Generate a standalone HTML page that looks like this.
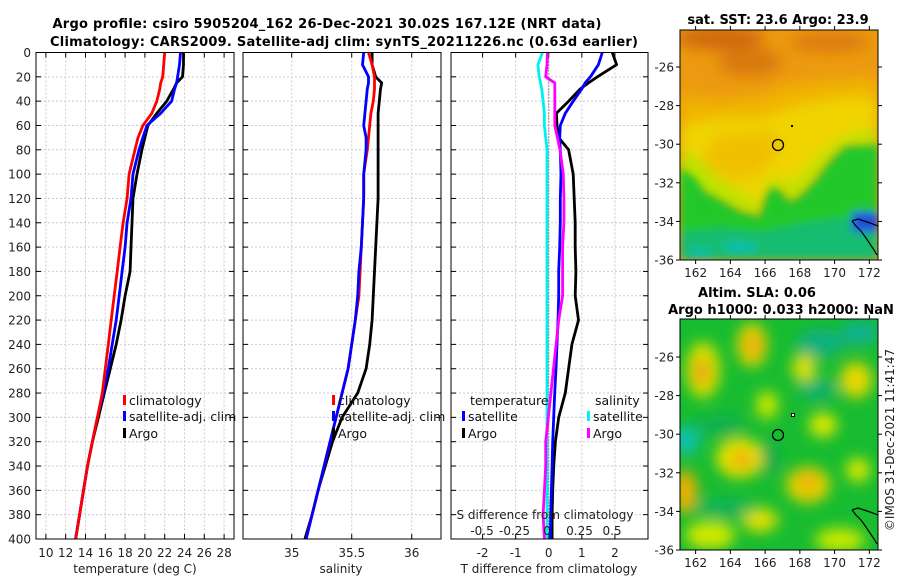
<!DOCTYPE html>
<html><head><meta charset="utf-8">
<style>
html,body{margin:0;padding:0;background:#fff;overflow:hidden;}
svg{display:block;font-family:"DejaVu Sans","Liberation Sans",sans-serif;}
.tk{font-size:12px;fill:#222;}
.ttl{font-size:13px;font-weight:bold;fill:#000;}
.lg{font-size:12.5px;fill:#111;}
</style></head>
<body>
<svg id="fig" width="900" height="580" viewBox="0 0 900 580">
<defs>
<filter id="blur4" x="-20%" y="-20%" width="140%" height="140%"><feGaussianBlur stdDeviation="4"/></filter>
<filter id="blur7" x="-30%" y="-30%" width="160%" height="160%"><feGaussianBlur stdDeviation="7"/></filter>
<clipPath id="clipTop"><rect x="680" y="30" width="198" height="230"/></clipPath>
<clipPath id="clipBot"><rect x="680" y="319" width="198" height="231"/></clipPath>
</defs>
<text class="ttl" x="327" y="28" text-anchor="middle" textLength="549">Argo profile: csiro 5905204_162 26-Dec-2021 30.02S 167.12E (NRT data)</text>
<text class="ttl" x="344" y="46" text-anchor="middle" textLength="588">Climatology: CARS2009. Satellite-adj clim: synTS_20211226.nc (0.63d earlier)</text>
<g id="plots"></g>

<!-- top map -->
<g clip-path="url(#clipTop)">
<rect x="680" y="30" width="198" height="230" fill="#ec9a10"/>
<g filter="url(#blur7)">
<ellipse cx="720" cy="38" rx="45" ry="12" fill="#d06a0c"/>
<ellipse cx="750" cy="62" rx="32" ry="14" fill="#d8780e"/>
<ellipse cx="830" cy="42" rx="40" ry="10" fill="#dc7c10"/>
<polygon points="680,95 720,100 760,95 790,85 830,80 878,78 878,140 680,150" fill="#f0b400"/>
<polygon points="680,125 720,118 760,118 800,105 840,98 878,98 878,140 845,140 830,155 815,175 800,190 790,195 775,180 768,185 760,210 740,205 720,195 705,185 695,170 680,160" fill="#f0d400"/>
<polygon points="715,135 770,130 785,145 760,175 730,180 700,165" fill="#f0c000"/>
<polygon points="680,150 700,160 720,180 745,195 760,205 770,175 790,185 810,165 830,145 850,135 878,128 878,150 845,150 830,165 815,185 800,200 790,205 775,190 768,200 760,220 740,215 720,205 700,195 680,180" fill="#b8e400"/>
</g>
<g filter="url(#blur4)">
<polygon points="680,168 695,178 705,192 720,200 740,212 760,217 768,192 775,187 790,202 800,197 815,182 830,162 845,147 878,145 878,260 680,260" fill="#20c82c"/>
<polygon points="680,232 720,228 760,232 800,224 840,218 878,218 878,260 680,260" fill="#14bc70"/>
<ellipse cx="740" cy="247" rx="18" ry="5" fill="#10c0b0"/>
<ellipse cx="700" cy="253" rx="12" ry="4" fill="#10c0b0"/>
<rect x="852" y="212" width="26" height="20" fill="#2050e0"/>
</g>
<polyline points="852,221 858,219 864,221 870,223 878,226" fill="none" stroke="#000" stroke-width="1.2"/>
<polyline points="852,221 856,226 861,231 866,238 870,244 874,250 877,255" fill="none" stroke="#000" stroke-width="1.2"/>
<circle cx="778" cy="145" r="5.5" fill="none" stroke="#000" stroke-width="1.3"/>
<rect x="791" y="125" width="2" height="2" fill="#000"/>
</g>
<rect x="680" y="30" width="198" height="230" fill="none" stroke="#000" stroke-width="1"/>
<text class="ttl" x="778" y="24" text-anchor="middle">sat. SST: 23.6 Argo: 23.9</text>

<!-- bottom map -->
<g clip-path="url(#clipBot)">
<rect x="680" y="319" width="198" height="231" fill="#18bc30"/>
<g filter="url(#blur7)">
<ellipse cx="703" cy="370" rx="17" ry="28" fill="#d8e000"/>
<ellipse cx="702" cy="372" rx="8" ry="14" fill="#f0a010"/>
<ellipse cx="752" cy="345" rx="15" ry="22" fill="#e8d000"/>
<ellipse cx="753" cy="345" rx="7" ry="10" fill="#f0a010"/>
<ellipse cx="804" cy="368" rx="12" ry="14" fill="#e0e000"/>
<ellipse cx="856" cy="380" rx="16" ry="18" fill="#e8d800"/>
<ellipse cx="767" cy="405" rx="11" ry="14" fill="#c8e800"/>
<ellipse cx="740" cy="458" rx="24" ry="20" fill="#e8e000"/>
<ellipse cx="742" cy="460" rx="10" ry="8" fill="#f0a010"/>
<ellipse cx="685" cy="492" rx="12" ry="22" fill="#f0b000"/>
<ellipse cx="808" cy="485" rx="22" ry="18" fill="#e8d000"/>
<ellipse cx="808" cy="482" rx="8" ry="7" fill="#f0a010"/>
<ellipse cx="823" cy="425" rx="14" ry="12" fill="#e0e800"/>
<ellipse cx="858" cy="470" rx="12" ry="12" fill="#d8e800"/>
<ellipse cx="760" cy="520" rx="18" ry="12" fill="#e0e000"/>
<ellipse cx="710" cy="535" rx="25" ry="14" fill="#d0e800"/>
<ellipse cx="840" cy="540" rx="25" ry="12" fill="#c8e800"/>
<ellipse cx="820" cy="343" rx="24" ry="14" fill="#10b080"/>
<ellipse cx="818" cy="390" rx="20" ry="10" fill="#10b070"/>
<ellipse cx="686" cy="440" rx="14" ry="14" fill="#10c0b0"/>
<ellipse cx="770" cy="458" rx="8" ry="18" fill="#10a850"/>
<ellipse cx="725" cy="508" rx="30" ry="8" fill="#10b060"/>
<ellipse cx="860" cy="333" rx="20" ry="12" fill="#10b090"/>
<ellipse cx="720" cy="425" rx="25" ry="10" fill="#10b050"/>
</g>
<polyline points="852,510 858,508 864,510 870,512 878,515" fill="none" stroke="#000" stroke-width="1.2"/>
<polyline points="852,510 856,515 861,520 866,527 870,533 874,539 877,544" fill="none" stroke="#000" stroke-width="1.2"/>
<circle cx="778" cy="435" r="5.5" fill="none" stroke="#000" stroke-width="1.3"/>
<rect x="791" y="413" width="4" height="4" fill="#000"/><rect x="792" y="414" width="2" height="2" fill="#fff"/>
</g>
<rect x="680" y="319" width="198" height="231" fill="none" stroke="#000" stroke-width="1"/>
<text class="ttl" x="757" y="297" text-anchor="middle">Altim. SLA: 0.06</text>
<text class="ttl" x="781" y="314" text-anchor="middle">Argo h1000: 0.033 h2000: NaN</text>
<text class="tk" x="0" y="0" transform="translate(894,440) rotate(-90)" text-anchor="middle">©IMOS 31-Dec-2021 11:41:47</text>
<g id="maps"></g>
</svg>
<script>
// ---- data ----
const depths = [0,10,20,25,30,40,50,60,70,80,100,120,140,160,180,200,220,240,260,280,300,320,340,360,380,400];
const tClim = [22.0,21.9,21.8,21.6,21.5,21.2,20.7,19.8,19.3,19.0,18.4,18.2,17.8,17.5,17.2,16.9,16.6,16.3,16.0,15.7,15.2,14.7,14.2,13.8,13.4,13.0];
const tSat  = [23.6,23.5,23.3,23.2,23.0,22.7,21.6,20.2,19.8,19.4,18.8,18.6,18.2,18.0,17.7,17.4,17.1,16.7,16.3,15.8,15.2,14.7,14.2,13.8,13.4,13.0];
const tArgo = [23.9,23.9,23.8,23.2,22.9,22.2,21.2,20.3,20.0,19.7,19.2,18.8,18.7,18.6,18.5,18.0,17.6,17.1,16.5,15.9,15.3,14.7,14.2,13.8,13.4,13.0];
const sClim = [35.64,35.67,35.69,35.69,35.69,35.68,35.66,35.65,35.64,35.63,35.60,35.60,35.59,35.58,35.57,35.56,35.53,35.50,35.47,35.42,35.37,35.32,35.27,35.22,35.17,35.12];
const sSat  = [35.60,35.59,35.64,35.64,35.63,35.62,35.61,35.60,35.62,35.62,35.60,35.60,35.59,35.58,35.56,35.55,35.53,35.50,35.47,35.42,35.37,35.32,35.27,35.22,35.17,35.12];
const sArgo = [35.67,35.67,35.70,35.75,35.74,35.73,35.72,35.72,35.72,35.72,35.72,35.72,35.71,35.70,35.69,35.68,35.67,35.65,35.62,35.55,35.42,35.34,35.28,35.22,35.17,35.11];
const dTsat  = [1.62,1.5,1.26,1.1,1.0,0.74,0.5,0.35,0.33,0.35,0.37,0.35,0.35,0.33,0.3,0.3,0.28,0.25,0.22,0.18,0.15,0.12,0.1,0.08,0.06,0.05];
const dTargo = [1.92,2.05,1.47,1.2,0.95,0.6,0.23,0.25,0.3,0.6,0.74,0.77,0.8,0.8,0.82,0.8,0.9,0.7,0.6,0.5,0.3,0.2,0.15,0.12,0.1,0.1];
const dSsat  = [-0.035,-0.07,-0.06,-0.05,-0.04,-0.03,-0.02,-0.02,-0.01,0,0,0,0,0,0,0,0,0,0,0,0,0,0,0,0,0];
const dSargo = [0.003,0.0,-0.01,0.06,0.06,0.06,0.06,0.06,0.08,0.1,0.125,0.13,0.13,0.12,0.12,0.12,0.09,0.07,0.05,0.03,0.01,-0.01,-0.01,-0.02,-0.03,-0.02];
const depthTicks = [0,20,40,60,80,100,120,140,160,180,200,220,240,260,280,300,320,340,360,380,400];
const tempTicks = [10,12,14,16,18,20,22,24,26,28];
const salTicks = [35,35.5,36];
const salTickLabels = ['35','35.5','36'];
const dTTicks = [-2,-1,0,1,2];
const dSTicks = [-0.5,-0.25,0,0.25,0.5];
const dSTickLabels = ['-0.5','-0.25','0','0.25','0.5'];
const lonTicks = [162,164,166,168,170,172];
const latTicks = [-26,-28,-30,-32,-34,-36];

const NS='http://www.w3.org/2000/svg';
const g = document.getElementById('plots');
function mk(tag, attrs, parent){const e=document.createElementNS(NS,tag);for(const k in attrs)e.setAttribute(k,attrs[k]);(parent||g).appendChild(e);return e;}
const Y0=52.5, Y1=539;
const yD = d => Y0 + (d/400)*(Y1-Y0);
function lin(d0,d1,p0,p1){return v=>p0+(v-d0)/(d1-d0)*(p1-p0);}

const panels = [
 {x0:36,x1:234,name:'temperature-panel'},
 {x0:243,x1:441,name:'salinity-panel'},
 {x0:451,x1:648,name:'difference-panel'}
];
const xT = lin(9,29,36,234);
const xS = lin(34.594,36.244,243,441);
const xdT = lin(-2.955,3.0,451,648);
const xdS = lin(-0.739,0.777,451,648);
const gridX = [tempTicks.map(xT), salTicks.map(xS), dTTicks.map(xdT)];

panels.forEach((p,i)=>{
  const pg = mk('g',{});
  
  
  mk('rect',{x:p.x0,y:Y0,width:p.x1-p.x0,height:Y1-Y0,fill:'#fff'},pg);
  depthTicks.forEach(d=>{
    const l=mk('line',{x1:p.x0,x2:p.x1,y1:yD(d),y2:yD(d),stroke:'#c4cbe6','stroke-width':1,'stroke-dasharray':'2,2'},pg);
    
    
    mk('line',{x1:p.x0,x2:p.x0+5,y1:yD(d),y2:yD(d),stroke:'#000'},pg);
    mk('line',{x1:p.x1-5,x2:p.x1,y1:yD(d),y2:yD(d),stroke:'#000'},pg);
  });
  gridX[i].forEach(x=>{
    const l=mk('line',{x1:x,x2:x,y1:Y0,y2:Y1,stroke:'#d9c4c4','stroke-width':1,'stroke-dasharray':'2,2'},pg);
    
    
    mk('line',{x1:x,x2:x,y1:Y1-5,y2:Y1,stroke:'#000'},pg);
    mk('line',{x1:x,x2:x,y1:Y0,y2:Y0+5,stroke:'#000'},pg);
  });
});

function series(xs, f, color, name, w){
  const pts = depths.map((d,k)=>f(xs[k]).toFixed(1)+','+yD(d).toFixed(1)).join(' ');
  const pl = mk('polyline',{points:pts,fill:'none',stroke:color,'stroke-width':w||2.8,'stroke-linejoin':'round'});
  
  
}
series(tArgo,xT,'#000','temperature-argo-line');
series(tSat,xT,'#0000ff','temperature-satellite-line');
series(tClim,xT,'#ff0000','temperature-climatology-line');
series(sArgo,xS,'#000','salinity-argo-line');
series(sClim,xS,'#ff0000','salinity-climatology-line');
series(sSat,xS,'#0000ff','salinity-satellite-line');
const zl = mk('line',{x1:xdT(0),x2:xdT(0),y1:Y0,y2:Y1,stroke:'#333','stroke-width':1,'stroke-dasharray':'1,2'});


series(dTargo,xdT,'#000','t-diff-argo-line');
series(dTsat,xdT,'#0000ff','t-diff-satellite-line');
series(dSsat,xdS,'#00f0f0','s-diff-satellite-line');
series(dSargo,xdS,'#ff00ff','s-diff-argo-line');

panels.forEach(p=>{ mk('rect',{x:p.x0,y:Y0,width:p.x1-p.x0,height:Y1-Y0,fill:'none',stroke:'#000','stroke-width':1}); });

function txt(x,y,s,cls,anchor,name,parent){
  const t=mk('text',{x:x,y:y,class:cls,'text-anchor':anchor||'middle'},parent);
  t.textContent=s;
  
  
  return t;
}
depthTicks.forEach(d=>txt(31,yD(d)+4.5,String(d),'tk','end','depth-tick-label'));
tempTicks.forEach(v=>txt(xT(v),557,String(v),'tk','middle','temperature-tick-label'));
salTicks.forEach((v,k)=>txt(xS(v),557,salTickLabels[k],'tk','middle','salinity-tick-label'));
dTTicks.forEach(v=>txt(xdT(v),557,String(v),'tk','middle','t-diff-tick-label'));
dSTicks.forEach((v,k)=>txt(xdS(v),535,dSTickLabels[k],'tk','middle','s-diff-tick-label'));
txt(135,573,'temperature (deg C)','tk','middle','x-axis-title-temperature');
txt(341,573,'salinity','tk','middle','x-axis-title-salinity');
txt(549,573,'T difference from climatology','tk','middle','x-axis-title-t-difference');
txt(545,519,'S difference from climatology','tk','middle','s-difference-axis-title');

function legendEntry(x,y,color,label,name){
  const r=mk('rect',{x:x,y:y-10,width:3,height:10,fill:color});
  
  
  txt(x+6,y,label,'lg','start',name);
}
legendEntry(123,405,'#ff0000','climatology','legend-climatology');
legendEntry(123,421,'#0000ff','satellite-adj. clim','legend-satellite-adj');
legendEntry(123,438,'#000','Argo','legend-argo');
legendEntry(332,405,'#ff0000','climatology','legend-climatology-sal');
legendEntry(332,421,'#0000ff','satellite-adj. clim','legend-satellite-adj-sal');
legendEntry(332,438,'#000','Argo','legend-argo-sal');
txt(470,405,'temperature','lg','start','legend-temperature-header');
legendEntry(462,421,'#0000ff','satellite','legend-t-satellite');
legendEntry(462,438,'#000','Argo','legend-t-argo');
txt(595,405,'salinity','lg','start','legend-salinity-header');
legendEntry(587,421,'#00f0f0','satellite','legend-s-satellite');
legendEntry(587,438,'#ff00ff','Argo','legend-s-argo');

// map axes
const mg = document.getElementById('maps');
const xLon = lin(161.1,172.5,680,878);
[[30,260,67],[319,550,357]].forEach(m=>{
  const yLat = lin(-26,-36,m[2],m[1]);
  lonTicks.forEach(v=>{
    mk('line',{x1:xLon(v),x2:xLon(v),y1:m[1],y2:m[1]+4,stroke:'#000'},mg);
    mk('line',{x1:xLon(v),x2:xLon(v),y1:m[0],y2:m[0]-4,stroke:'#000'},mg);
    txt(xLon(v),m[1]+17,String(v),'tk','middle','longitude-tick-label',mg);
  });
  latTicks.forEach(v=>{
    mk('line',{x1:676,x2:680,y1:yLat(v),y2:yLat(v),stroke:'#000'},mg);
    mk('line',{x1:878,x2:882,y1:yLat(v),y2:yLat(v),stroke:'#000'},mg);
    txt(674,yLat(v)+4.5,String(v),'tk','end','latitude-tick-label',mg);
  });
});
</script>
</body></html>
